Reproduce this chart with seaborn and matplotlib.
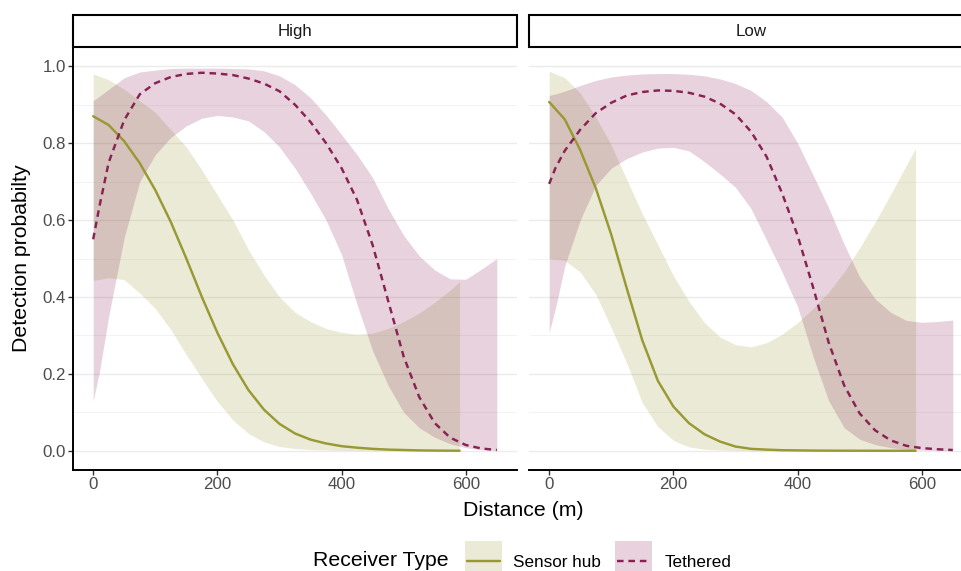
import matplotlib
matplotlib.use("Agg")
import matplotlib.pyplot as plt
import numpy as np
import pandas as pd
import seaborn as sns
from matplotlib.patches import Rectangle
from matplotlib.lines import Line2D

# ---------------- data ----------------
PANELS = ["High", "Low"]
TYPES = ["Sensor hub", "Tethered"]

DIST_SENSOR = [0, 25, 50, 75, 100, 125, 150, 175, 200, 225, 250, 275, 300,
               325, 350, 375, 400, 425, 450, 475, 500, 525, 550, 575, 590]
DIST_TETHERED = [0, 10, 25, 50, 75, 100, 125, 150, 175, 200, 225, 250, 275, 300,
                 325, 350, 375, 400, 425, 450, 475, 500, 525, 550, 575, 600,
                 625, 650]

# High - Sensor hub
HIGH_SENSOR_MEAN = [0.87, 0.847, 0.805, 0.748, 0.678, 0.595, 0.50, 0.40, 0.307, 0.225,
                    0.158, 0.107, 0.07, 0.045, 0.029, 0.019, 0.012, 0.008, 0.005,
                    0.003, 0.002, 0.001, 0.0005, 0.0002, 0.0001]
HIGH_SENSOR_LO = [0.443, 0.45, 0.445, 0.41, 0.37, 0.315, 0.25, 0.188, 0.128, 0.08,
                  0.045, 0.023, 0.011, 0.006, 0.003, 0.002, 0.001, 0.0005, 0.0003,
                  0.0002, 0.0001, 0.0, 0.0, 0.0, 0.0]
HIGH_SENSOR_HI = [0.98, 0.965, 0.94, 0.91, 0.88, 0.835, 0.79, 0.73, 0.665, 0.60,
                  0.523, 0.457, 0.40, 0.36, 0.336, 0.318, 0.308, 0.303, 0.306,
                  0.318, 0.336, 0.358, 0.386, 0.418, 0.44]

# High - Tethered
HIGH_TETH_MEAN = [0.55, 0.635, 0.75, 0.86, 0.927, 0.956, 0.972, 0.98, 0.983, 0.981,
                  0.977, 0.968, 0.955, 0.935, 0.90, 0.855, 0.80, 0.735, 0.652, 0.535,
                  0.39, 0.245, 0.14, 0.072, 0.034, 0.015, 0.006, 0.002]
HIGH_TETH_LO = [0.13, 0.205, 0.35, 0.555, 0.70, 0.77, 0.815, 0.845, 0.865, 0.872,
                0.868, 0.858, 0.83, 0.79, 0.735, 0.67, 0.60, 0.51, 0.38, 0.26,
                0.17, 0.10, 0.06, 0.035, 0.018, 0.008, 0.003, 0.001]
HIGH_TETH_HI = [0.91, 0.922, 0.94, 0.97, 0.985, 0.99, 0.994, 0.995, 0.995, 0.995,
                0.994, 0.993, 0.988, 0.975, 0.952, 0.918, 0.873, 0.822, 0.77, 0.71,
                0.63, 0.56, 0.507, 0.47, 0.447, 0.446, 0.472, 0.50]

# Low - Sensor hub
LOW_SENSOR_MEAN = [0.907, 0.862, 0.782, 0.683, 0.562, 0.422, 0.287, 0.182, 0.115, 0.072,
                   0.043, 0.024, 0.011, 0.005, 0.003, 0.0015, 0.001, 0.0005, 0.0003,
                   0.0002, 0.0001, 0.0, 0.0, 0.0, 0.0]
LOW_SENSOR_LO = [0.50, 0.495, 0.465, 0.407, 0.32, 0.228, 0.125, 0.063, 0.027, 0.01,
                 0.004, 0.002, 0.001, 0.0, 0.0, 0.0, 0.0, 0.0, 0.0, 0.0, 0.0, 0.0,
                 0.0, 0.0, 0.0]
LOW_SENSOR_HI = [0.987, 0.97, 0.93, 0.868, 0.795, 0.705, 0.616, 0.536, 0.455, 0.389,
                 0.333, 0.296, 0.276, 0.27, 0.281, 0.303, 0.333, 0.37, 0.413, 0.465,
                 0.528, 0.595, 0.667, 0.742, 0.786]

# Low - Tethered
LOW_TETH_MEAN = [0.694, 0.735, 0.78, 0.835, 0.878, 0.905, 0.924, 0.933, 0.937, 0.936,
                 0.931, 0.921, 0.903, 0.875, 0.83, 0.765, 0.67, 0.56, 0.425, 0.282,
                 0.17, 0.097, 0.053, 0.027, 0.013, 0.007, 0.004, 0.002]
LOW_TETH_LO = [0.308, 0.37, 0.48, 0.60, 0.69, 0.735, 0.76, 0.777, 0.787, 0.789,
               0.78, 0.752, 0.72, 0.685, 0.63, 0.548, 0.465, 0.375, 0.245, 0.13,
               0.06, 0.03, 0.016, 0.008, 0.004, 0.002, 0.001, 0.0]
LOW_TETH_HI = [0.924, 0.928, 0.935, 0.95, 0.963, 0.972, 0.977, 0.98, 0.981, 0.981,
               0.979, 0.975, 0.967, 0.955, 0.937, 0.908, 0.868, 0.80, 0.717, 0.632,
               0.537, 0.452, 0.395, 0.36, 0.339, 0.334, 0.336, 0.34]

X_TICKS = [0, 200, 400, 600]
Y_TICKS = [0.0, 0.2, 0.4, 0.6, 0.8, 1.0]
Y_TICKLABELS = ["0.0", "0.2", "0.4", "0.6", "0.8", "1.0"]

PALETTE = {"Sensor hub": "#999933", "Tethered": "#882255"}
DASHES = {"Sensor hub": "", "Tethered": (2.7, 2.0)}

# ---------------- build long table ----------------
SERIES = [
    ("High", "Sensor hub", DIST_SENSOR, HIGH_SENSOR_LO, HIGH_SENSOR_MEAN, HIGH_SENSOR_HI),
    ("High", "Tethered", DIST_TETHERED, HIGH_TETH_LO, HIGH_TETH_MEAN, HIGH_TETH_HI),
    ("Low", "Sensor hub", DIST_SENSOR, LOW_SENSOR_LO, LOW_SENSOR_MEAN, LOW_SENSOR_HI),
    ("Low", "Tethered", DIST_TETHERED, LOW_TETH_LO, LOW_TETH_MEAN, LOW_TETH_HI),
]
rows = []
for panel, rtype, dist, lo, mid, hi in SERIES:
    for d, a, b, c in zip(dist, lo, mid, hi):
        for v in (a, b, c):
            rows.append({"panel": panel, "type": rtype, "distance": d, "prob": v})
df = pd.DataFrame(rows)

# ---------------- style ----------------
sns.set_theme(style="white")
plt.rcParams["font.family"] = ["Liberation Sans", "DejaVu Sans"]

W, H = 961, 571
fig = plt.figure(figsize=(W / 100, H / 100), dpi=100)
fig.patch.set_facecolor("white")

BASE = 15.3
SMALL = 12.2


def band(v):
    return (v.min(), v.max())


def fx(px):
    return px / W


def fy(py):
    return 1 - py / H


panel_left = {"High": 73, "Low": 529}
PANEL_W = 444
for i, panel in enumerate(PANELS):
    left = panel_left[panel]
    ax = fig.add_axes([fx(left), fy(470), PANEL_W / W, 423 / H])
    sub = df[df["panel"] == panel]
    sns.lineplot(data=sub, x="distance", y="prob", hue="type", style="type",
                 hue_order=TYPES, style_order=TYPES, palette=PALETTE,
                 dashes=DASHES, estimator="median", errorbar=band,
                 err_kws={"alpha": 0.2, "linewidth": 0}, linewidth=1.75,
                 legend=False, ax=ax)
    ax.set_xlim(-32.5, 682.5)
    ax.set_ylim(-0.05, 1.05)
    ax.set_xticks(X_TICKS)
    ax.set_yticks(Y_TICKS)
    ax.set_yticklabels(Y_TICKLABELS)
    ax.set_yticks([0.1, 0.3, 0.5, 0.7, 0.9], minor=True)
    ax.set_xlabel("")
    ax.set_ylabel("")
    ax.grid(False)
    ax.grid(axis="y", which="major", color="#EBEBEB", linewidth=1.0, zorder=0)
    ax.grid(axis="y", which="minor", color="#F3F3F3", linewidth=0.7, zorder=0)
    ax.set_axisbelow(True)
    for s in ["top", "right"]:
        ax.spines[s].set_visible(False)
    ax.spines["bottom"].set_color("black")
    ax.spines["bottom"].set_linewidth(1.4)
    ax.tick_params(axis="both", which="major", length=3.6, width=1.0,
                   color="#333333", labelcolor="#4D4D4D", labelsize=SMALL,
                   pad=1.6, bottom=True, left=True)
    ax.tick_params(axis="both", which="minor", length=0)
    if i == 0:
        ax.spines["left"].set_color("black")
        ax.spines["left"].set_linewidth(1.4)
    else:
        ax.spines["left"].set_visible(False)
        ax.tick_params(axis="y", which="both", left=False, labelleft=False)

    # facet strip
    sax = fig.add_axes([fx(left), fy(47), PANEL_W / W, 32 / H])
    sax.set_xlim(0, 1)
    sax.set_ylim(0, 1)
    sax.set_xticks([])
    sax.set_yticks([])
    for s in sax.spines.values():
        s.set_visible(False)
    sax.add_patch(Rectangle((0, 0), 1, 1, transform=sax.transAxes,
                            facecolor="white", edgecolor="black", linewidth=1.5,
                            clip_on=False))
    sax.text(0.5, 0.47, panel, ha="center", va="center", fontsize=SMALL,
             color="#1A1A1A", transform=sax.transAxes)

# axis titles
fig.text(fx(523), fy(510), "Distance (m)", ha="center", va="center",
         fontsize=BASE, color="black")
fig.text(fx(22), fy(258.5), "Detection probabilty", ha="center", va="center",
         rotation=90, fontsize=BASE, color="black")

# legend at the bottom (kept fully inside the picture)
fig.text(fx(313), fy(566.5), "Receiver Type", ha="left", va="baseline",
         fontsize=BASE, color="black")
KEY_X = {"Sensor hub": 465, "Tethered": 615}
LABEL_X = {"Sensor hub": 513, "Tethered": 665}
for t in TYPES:
    kx = KEY_X[t]
    fig.add_artist(Rectangle((fx(kx), fy(590)), 37 / W, 49 / H,
                             transform=fig.transFigure, facecolor=PALETTE[t],
                             alpha=0.2, edgecolor="none"))
    ls = "-" if DASHES[t] == "" else (0, DASHES[t])
    fig.add_artist(Line2D([fx(kx + 2), fx(kx + 35)], [fy(560.5), fy(560.5)],
                          transform=fig.transFigure, color=PALETTE[t],
                          linewidth=1.75, linestyle=ls))
    fig.text(fx(LABEL_X[t]), fy(566.8), t, ha="left", va="baseline",
             fontsize=12.3, color="black")

fig.savefig("out.png", dpi=100, facecolor="white")
